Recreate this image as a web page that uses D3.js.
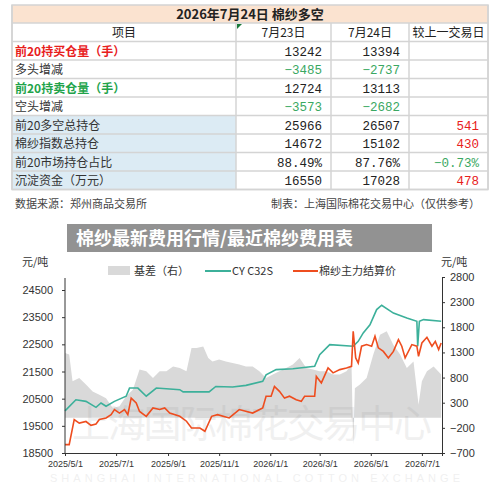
<!DOCTYPE html>
<html><head><meta charset="utf-8">
<script src="https://cdn.jsdelivr.net/npm/d3@7"></script>
<style>body{margin:0;background:#fff}svg{display:block}</style>
</head><body>
<svg id="c" width="500" height="485"></svg>
<script>
// table data
const tableTitle = "2026年7月24日  棉纱多空";
const tableHead = ["项目", "7月23日", "7月24日", "较上一交易日"];
const rowNames = ["前20持买仓量（手）", "多头增减", "前20持卖仓量（手）", "空头增减",
    "前20多空总持仓", "棉纱指数总持仓", "前20市场持仓占比", "沉淀资金（万元）"];
const day23 = ["13242", "-3485", "12724", "-3573", "25966", "14672", "88.49%", "16550"];
const day24 = ["13394", "-2737", "13113", "-2682", "26507", "15102", "87.76%", "17028"];
const change = ["", "", "", "", "541", "430", "-0.73%", "478"];

// chart data: [days since 2025/5/1, value]
const startDate = new Date(2025, 4, 1);
const cyC32s = [[0,20050],[13,20460],[25,20400],[37,20180],[43,20340],[49,20220],[59,20400],[73,20590],
    [77,20890],[87,20890],[97,20590],[109,20890],[137,20830],[141,20750],[172,20750],[180,20950],[200,20930],
    [216,20990],[236,21140],[240,21380],[252,21570],[272,21600],[298,21690],[304,22120],[316,22490],
    [344,22430],[350,22610],[356,22920],[364,23220],[372,23780],[378,23940],[392,23650],[408,23470],
    [420,23350],[421,22430],[423,23350],[428,23410],[449,23350]];
const settlePrice = [[0,18810],[5,18810],[11,19730],[17,19600],[25,19660],[31,19520],[37,19570],[41,19730],
    [49,19790],[55,19910],[59,20100],[65,19970],[71,20100],[75,19910],[79,20520],[85,20340],[89,20030],
    [97,19850],[105,20160],[113,20100],[119,20160],[125,19970],[137,19850],[145,19670],[151,19420],
    [161,19420],[167,19300],[175,19850],[182,19910],[196,19790],[208,20100],[224,19970],[236,20160],
    [240,20590],[246,20590],[250,20950],[256,20770],[262,20520],[268,20590],[276,20460],[282,20400],
    [286,20590],[298,20590],[300,21320],[306,21080],[314,21630],[320,21450],[328,21570],[336,21630],
    [342,21690],[344,22980],[347,22000],[350,21810],[354,22430],[360,22490],[366,22430],[370,22800],
    [374,22370],[380,22240],[386,22000],[392,22240],[398,22670],[402,22430],[406,22000],[414,22490],
    [420,22430],[422,22060],[426,22550],[432,22760],[438,22430],[442,22610],[446,22310],[449,22550]];
const basis = [[0,1290],[5,1260],[9,725],[17,790],[25,660],[33,525],[41,460],[49,390],[57,195],[65,230],
    [73,430],[81,560],[89,960],[97,925],[105,790],[113,925],[121,925],[129,1020],[137,990],[145,925],
    [151,1390],[157,1390],[165,1420],[171,1190],[176,1120],[184,1160],[192,1120],[200,1090],[208,1060],
    [216,1020],[224,1020],[232,925],[240,790],[248,860],[256,925],[264,990],[272,1060],[280,1190],
    [288,990],[296,960],[304,925],[312,925],[320,860],[328,860],[336,925],[342,1060],[344,-530],[346,590],
    [352,660],[360,790],[368,1260],[376,1650],[384,1720],[392,1450],[400,1260],[408,990],[416,1120],
    [422,260],[426,725],[432,925],[440,1020],[449,860]];
const leftTicks = [18500, 19500, 20500, 21500, 22500, 23500, 24500];
const rightTicks = [-700, -200, 300, 800, 1300, 1800, 2300, 2800];
const xTicks = ["2025/5/1","2025/7/1","2025/9/1","2025/11/1","2026/1/1","2026/3/1","2026/5/1","2026/7/1"];

const svg = d3.select("#c");
const cjk = "'Noto Sans CJK SC', sans-serif";

// ---- table ----
const colX = [12, 236, 331, 409, 488];
const tTop = 5, titleH = 18, rowH = 18.5;
const tbl = svg.append("g");
tbl.append("rect").attr("x", 12).attr("y", tTop).attr("width", 476).attr("height", titleH).attr("fill", "#fbe3d0");
tbl.append("text").attr("x", 250).attr("y", tTop + 14).attr("text-anchor", "middle")
    .attr("font-family", cjk).attr("font-weight", "bold").attr("font-size", 13).attr("fill", "#222").text(tableTitle);
const headY = tTop + titleH;
tableHead.forEach((h, i) => {
    tbl.append("text").attr("x", (colX[i] + colX[i + 1]) / 2).attr("y", headY + 14).attr("text-anchor", "middle")
        .attr("font-family", cjk).attr("font-size", 12).attr("fill", "#222").text(h);
});
tbl.append("path").attr("d", `M237,${headY + 1}h5l-5,5z`).attr("fill", "#1a7a3a");
rowNames.forEach((name, r) => {
    const y = headY + rowH * (r + 1);
    if (r >= 4) tbl.append("rect").attr("x", 12).attr("y", y).attr("width", colX[1] - 12).attr("height", rowH).attr("fill", "#dcebf4");
    const nameColor = r === 0 ? "#e8201c" : r === 2 ? "#22a34a" : "#333";
    tbl.append("text").attr("x", 15).attr("y", y + 14).attr("font-family", cjk).attr("font-size", 12)
        .attr("font-weight", r === 0 || r === 2 ? "bold" : "normal").attr("fill", nameColor).text(name);
    const vals = [day23[r], day24[r], change[r]];
    vals.forEach((v, i) => {
        let col = "#222";
        if (i < 2 && (r === 1 || r === 3)) col = "#3aa862";
        if (i === 2) col = v.startsWith("-") ? "#3aa862" : "#e8201c";
        tbl.append("text").attr("x", colX[i + 2] - 9).attr("y", y + 14).attr("text-anchor", "end")
            .attr("font-family", "'Liberation Mono', monospace").attr("font-size", 12.5).attr("fill", col)
            .text(v.replace("-", "−"));
    });
});
const tBottom = headY + rowH * 9;
for (let r = 0; r <= 9; r++) {
    tbl.append("line").attr("x1", 12).attr("x2", 488).attr("y1", headY + rowH * r).attr("y2", headY + rowH * r)
        .attr("stroke", "#d4d4d4").attr("stroke-width", 1.5);
}
colX.forEach((x, i) => {
    tbl.append("line").attr("x1", x).attr("x2", x).attr("y1", i === 0 || i === 4 ? tTop : headY).attr("y2", tBottom)
        .attr("stroke", "#d4d4d4").attr("stroke-width", 1.5);
});
tbl.append("rect").attr("x", 12).attr("y", tTop).attr("width", 476).attr("height", tBottom - tTop)
    .attr("fill", "none").attr("stroke", "#d4d4d4").attr("stroke-width", 1.5);
tbl.append("text").attr("x", 15).attr("y", 208).attr("font-family", cjk).attr("font-size", 11).attr("fill", "#444").text("数据来源：郑州商品交易所");
tbl.append("text").attr("x", 480).attr("y", 208).attr("text-anchor", "end").attr("font-family", cjk).attr("font-size", 11).attr("fill", "#444").text("制表：上海国际棉花交易中心（仅供参考）");

// ---- chart ----
const pLeft = 65, pRight = 442, pTop = 278, pBottom = 453;
const x = d3.scaleTime().domain([startDate, d3.timeDay.offset(startDate, 450)]).range([pLeft, pRight]);
const yL = d3.scaleLinear().domain([18500, 24500]).range([pBottom, 290]);
const yR = d3.scaleLinear().domain([-700, 2800]).range([pBottom, 277]);
const dt = d => d3.timeDay.offset(startDate, d[0]);

svg.append("path").datum(basis).attr("fill", "#d9d9d9")
    .attr("d", d3.area().x(d => x(dt(d))).y0(yR(0)).y1(d => yR(d[1])));

// watermark
svg.append("text").attr("x", 252).attr("y", 437).attr("text-anchor", "middle").attr("font-family", cjk)
    .attr("font-size", 38).attr("fill", "#888").attr("opacity", 0.12).attr("textLength", 360).text("上海国际棉花交易中心");
svg.append("text").attr("x", 255).attr("y", 482).attr("text-anchor", "middle").attr("font-family", "'Liberation Sans', sans-serif")
    .attr("font-size", 11).attr("fill", "#888").attr("opacity", 0.12).attr("textLength", 410).text("SHANGHAI INTERNATIONAL COTTON EXCHANGE");

const line = d3.line().x(d => x(dt(d))).y(d => yL(d[1]));
svg.append("path").datum(cyC32s).attr("fill", "none").attr("stroke", "#3cb09a").attr("stroke-width", 1.6).attr("d", line);
svg.append("path").datum(settlePrice).attr("fill", "none").attr("stroke", "#ee4d1f").attr("stroke-width", 1.6).attr("d", line);

const axFont = g => g.selectAll("text").attr("font-family", "'Liberation Sans', sans-serif").attr("font-size", 11).attr("fill", "#333");
const axL = svg.append("g").attr("transform", `translate(${pLeft},0)`)
    .call(d3.axisLeft(yL).tickValues(leftTicks).tickFormat(d3.format("d")).tickSize(3).tickPadding(9));
axL.call(axFont); axL.select(".domain").attr("d", `M0,${pTop}V${pBottom}`);
const axR = svg.append("g").attr("transform", `translate(${pRight},0)`)
    .call(d3.axisRight(yR).tickValues(rightTicks).tickFormat(d3.format("d")).tickSize(3).tickPadding(5));
axR.call(axFont);
const parse = d3.timeParse("%Y/%-m/%-d");
const axB = svg.append("g").attr("transform", `translate(0,${pBottom})`)
    .call(d3.axisBottom(x).tickValues(xTicks.map(parse)).tickFormat(d3.timeFormat("%Y/%-m/%-d")).tickSize(3).tickPadding(5));
axB.call(axFont); axB.selectAll("text").attr("font-size", 9);
svg.selectAll(".domain, .tick line").attr("stroke", "#333");

svg.append("text").attr("x", 22).attr("y", 266).attr("font-family", cjk).attr("font-size", 11).attr("fill", "#333").text("元/吨");
svg.append("text").attr("x", 441).attr("y", 266).attr("font-family", cjk).attr("font-size", 11).attr("fill", "#333").text("元/吨");

// legend
const lg = svg.append("g").attr("font-family", cjk).attr("font-size", 11).attr("fill", "#333");
lg.append("rect").attr("x", 108).attr("y", 266).attr("width", 22).attr("height", 9).attr("fill", "#d9d9d9");
lg.append("text").attr("x", 134).attr("y", 275).text("基差（右）");
lg.append("line").attr("x1", 205).attr("x2", 231).attr("y1", 271).attr("y2", 271).attr("stroke", "#3cb09a").attr("stroke-width", 2);
lg.append("text").attr("x", 232).attr("y", 275).text("CY C32S");
lg.append("line").attr("x1", 293).attr("x2", 318).attr("y1", 271).attr("y2", 271).attr("stroke", "#ee4d1f").attr("stroke-width", 2);
lg.append("text").attr("x", 319).attr("y", 275).text("棉纱主力结算价");

// title banner
svg.append("rect").attr("x", 67).attr("y", 224).attr("width", 365).attr("height", 28).attr("fill", "#8c8c8c").attr("opacity", 0.95);
svg.append("text").attr("x", 76).attr("y", 245).attr("font-family", cjk).attr("font-weight", "bold").attr("font-size", 18)
    .attr("fill", "#fff").text("棉纱最新费用行情/最近棉纱费用表");
</script>
</body></html>
